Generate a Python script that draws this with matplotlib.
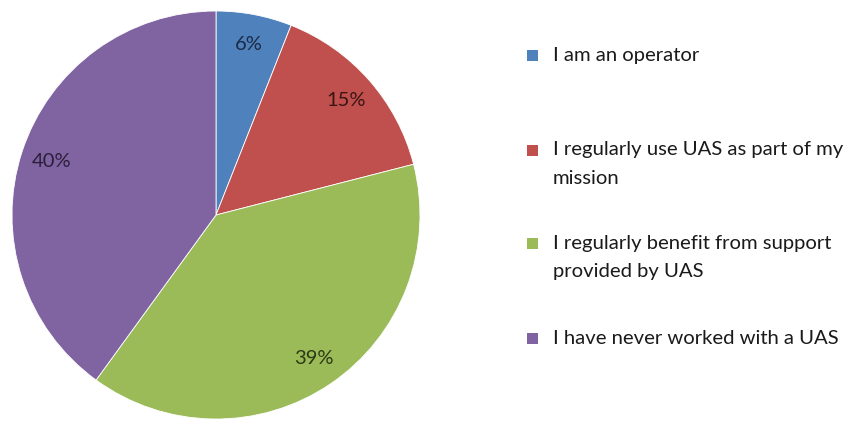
import matplotlib
matplotlib.use("Agg")
import matplotlib.pyplot as plt
from matplotlib.patches import Rectangle

categories = ["I am an operator",
              "I regularly use UAS as part of my\nmission",
              "I regularly benefit from support\nprovided by UAS",
              "I have never worked with a UAS"]
values = [6, 15, 39, 40]
colors = ["#4F81BD", "#C0504D", "#9BBB59", "#8064A2"]
label_colors = ["#1c2a45", "#3a1514", "#2c3a14", "#2a1f3a"]

W, H = 852, 428
fig = plt.figure(figsize=(W / 100, H / 100), dpi=100)
fig.patch.set_facecolor("white")

cx, cy, r = 216, 215, 204
ax = fig.add_axes([(cx - r) / W, (H - cy - r) / H, 2 * r / W, 2 * r / H])
wedges, texts, autotexts = ax.pie(
    values, colors=colors, startangle=90, counterclock=False,
    autopct=lambda p: f"{p:.0f}%", pctdistance=0.85, radius=1,
    wedgeprops=dict(edgecolor="white", linewidth=0.6))
for t, c in zip(autotexts, label_colors):
    t.set_color(c)
    t.set_fontsize(14.5)
    t.set_family(["Lato", "DejaVu Sans"])
ax.set_xlim(-1, 1)
ax.set_ylim(-1, 1)
ax.set_aspect("equal")
ax.axis("off")

first_line_y = [55, 150, 243, 338]
line_gap = 28
sq = 11
for i, (lab, col) in enumerate(zip(categories, colors)):
    y = first_line_y[i]
    fig.patches.append(Rectangle((527 / W, (H - y - sq / 2) / H), sq / W, sq / H,
                                 transform=fig.transFigure, facecolor=col,
                                 edgecolor="none"))
    for j, line in enumerate(lab.split("\n")):
        fig.text(553 / W, (H - y - j * line_gap) / H, line, ha="left", va="center",
                 fontsize=14.6, color="#1a1a1a",
                 family=["Lato", "DejaVu Sans"])

fig.savefig("out.png", dpi=100)
